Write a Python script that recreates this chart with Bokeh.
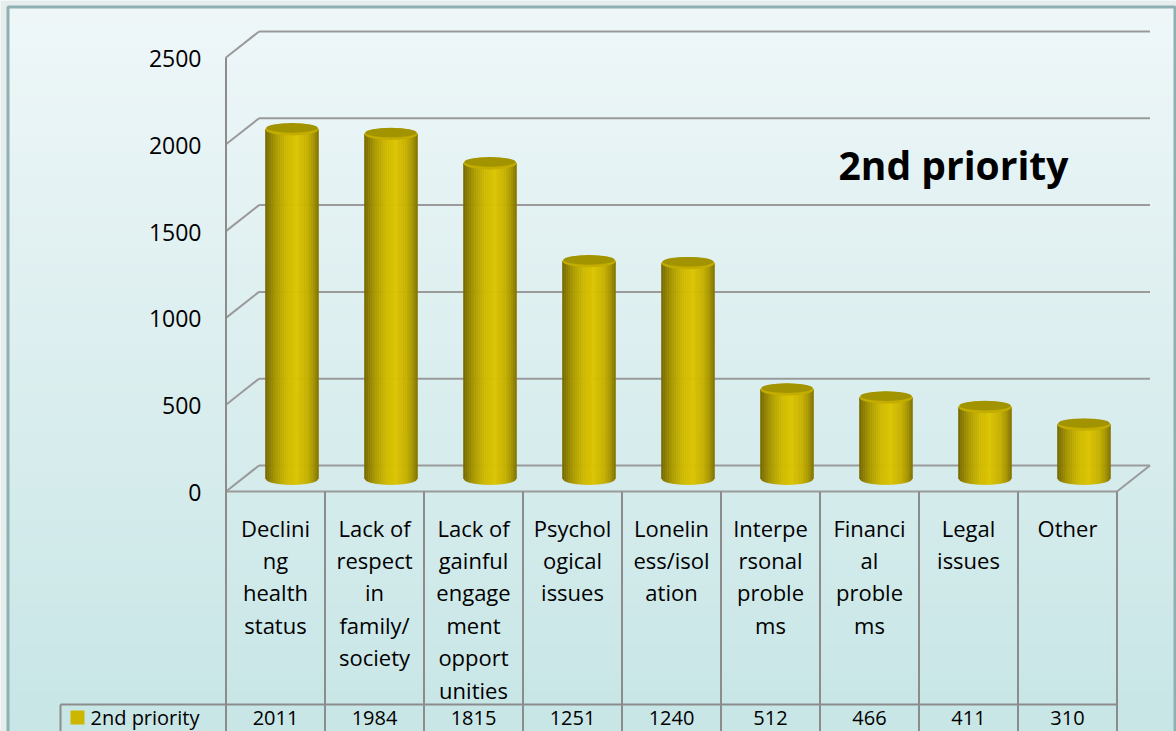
import numpy as np
from bokeh.plotting import figure
from bokeh.models import Range1d
from bokeh.core.properties import value
from bokeh.embed import file_html
from bokeh.resources import INLINE

# ---------------- data ----------------
category_lines = [
    ["Declini", "ng", "health", "status"],
    ["Lack of", "respect", "in", "family/", "society"],
    ["Lack of", "gainful", "engage", "ment", "opport", "unities"],
    ["Psychol", "ogical", "issues"],
    ["Lonelin", "ess/isol", "ation"],
    ["Interpe", "rsonal", "proble", "ms"],
    ["Financi", "al", "proble", "ms"],
    ["Legal", "issues"],
    ["Other"],
]
values = [2011, 1984, 1815, 1251, 1240, 512, 466, 411, 310]
series_name = "2nd priority"
title_text = "2nd priority"
y_ticks = [0, 500, 1000, 1500, 2000, 2500]
y_tick_labels = ["0", "500", "1000", "1500", "2000", "2500"]

# ---------------- layout (pixel calibration) ----------------
W, H = 1176, 731
X0 = 275.0      # px x of first category centre (front plane)
COLW = 99.0     # px per category
Y0 = 491.0      # px y of value 0 (front plane)
PPU = 86.8 / 500.0  # px per value unit


def dx(px):
    return (px - X0) / COLW


def dy(py):
    return (Y0 - py) / PPU


DXc = 33.0 / COLW     # depth offset in category units
DYv = 26.0 / PPU      # depth offset in value units
FONT = value("Open Sans")

p = figure(width=W, height=H, output_backend="svg", toolbar_location=None,
           x_range=Range1d(dx(0), dx(W)),
           y_range=Range1d(dy(H), dy(0)),
           min_border=0, x_axis_type=None, y_axis_type=None)
p.grid.visible = False
p.outline_line_color = None
p.border_fill_color = "#e6eded"
p.background_fill_color = "#e6eded"

# ---------------- background gradient ----------------
NB = 90
edges = np.linspace(7, H, NB + 1)
top_rgb = np.array([239, 247, 249])
bot_rgb = np.array([200, 230, 230])
bg_cols = []
for k in range(NB):
    t = (k + 0.5) / NB
    c = (top_rgb * (1 - t) + bot_rgb * t).astype(int)
    bg_cols.append("#%02x%02x%02x" % tuple(c))
p.quad(left=dx(8), right=dx(1174),
       top=[dy(max(7, e - 0.6)) for e in edges[:-1]], bottom=[dy(e + 0.6) for e in edges[1:]],
       fill_color=bg_cols, line_color=None)

# outer chart border (left, top, right)
p.line(x=[dx(7.5), dx(7.5), dx(1174.5), dx(1174.5)],
       y=[dy(745), dy(6.5), dy(6.5), dy(745)],
       line_color="#8fb0b0", line_width=3)

# ---------------- 3D walls / gridlines ----------------
GRID = "#9a9a9a"
n = len(values)
left_front = -0.5
right_front = n - 0.5
gx, gy = [], []
for t in y_ticks:
    gx.append([left_front, left_front + DXc])
    gy.append([t, t + DYv])
    gx.append([left_front + DXc, right_front + DXc])
    gy.append([t + DYv, t + DYv])
gx.append([left_front, right_front])
gy.append([0, 0])
gx.append([right_front, right_front + DXc])
gy.append([0, DYv])
p.multi_line(xs=gx, ys=gy, line_color=GRID, line_width=2)

# front vertical axis + table verticals
TBL = "#8c8c8c"
tx, ty = [], []
tx.append([left_front, left_front])
ty.append([y_ticks[-1], dy(745)])
for k in range(1, n + 1):
    xk = left_front + k
    tx.append([xk, xk])
    ty.append([0, dy(745)])
tx.append([dx(60), right_front])
ty.append([dy(704), dy(704)])
tx.append([dx(60), dx(60)])
ty.append([dy(704), dy(745)])
p.multi_line(xs=tx, ys=ty, line_color=TBL, line_width=2)

# ---------------- cylinders ----------------
stops_u = [-1.0, -0.65, -0.2, 0.2, 0.6, 0.85, 1.0]
stops_r = [0x74, 0xa6, 0xcf, 0xdc, 0xc6, 0xa2, 0x80]
stops_g = [0x67, 0x95, 0xba, 0xc5, 0xb0, 0x91, 0x72]


def shade(u):
    r = int(np.interp(u, stops_u, stops_r))
    g = int(np.interp(u, stops_u, stops_g))
    return "#%02x%02x%02x" % (r, g, 0)


R = 26.5 / COLW
E = 6.0 / PPU
base_c = DYv / 2.0
NS = 28
ue = np.linspace(-1, 1, NS + 1)
cxs, cys, ccols = [], [], []
top_x, top_y = [], []
for i, v in enumerate(values):
    cx = i + DXc / 2.0
    top_c = v + DYv / 2.0
    top_x.append(cx)
    top_y.append(top_c)
    for k in range(NS):
        u0, u1 = ue[k], ue[k + 1]
        cxs.append([cx + R * u0, cx + R * u1, cx + R * u1, cx + R * u0])
        cys.append([top_c, top_c,
                    base_c - E * np.sqrt(max(0.0, 1 - u1 ** 2)),
                    base_c - E * np.sqrt(max(0.0, 1 - u0 ** 2))])
        ccols.append(shade((u0 + u1) / 2))
p.patches(xs=cxs, ys=cys, fill_color=ccols, line_color=ccols, line_width=0.6)
p.ellipse(x=top_x, y=top_y, width=2 * R, height=2 * E,
          fill_color="#c2ad00", line_color=None)
p.ellipse(x=top_x, y=[t + 0.25 * E for t in top_y], width=2 * R * 0.97, height=2 * E * 0.8,
          fill_color="#a29300", line_color=None)

# ---------------- texts ----------------
p.text(x=[dx(201)] * len(y_ticks), y=[t - 1.0 / PPU for t in y_ticks], text=y_tick_labels,
       text_align="right", text_baseline="middle", text_font=FONT,
       text_font_size="23px", text_color="#000000")

lx, ly, lt = [], [], []
for i, lines in enumerate(category_lines):
    for j, s in enumerate(lines):
        lx.append(i)
        ly.append(dy(527 + 32.4 * j))
        lt.append(s)
p.text(x=lx, y=ly, text=lt, text_align="center", text_baseline="middle",
       text_font=FONT, text_font_size="22px", text_color="#000000")

p.text(x=[dx(838)], y=[dy(164)], text=[title_text], text_align="left",
       text_baseline="middle", text_font=FONT, text_font_size="39px",
       text_font_style="bold", text_color="#000000")

# data table row (kept fully inside the picture)
p.quad(left=[dx(70)], right=[dx(84)], top=[dy(710)], bottom=[dy(724)],
       fill_color="#cdb600", line_color=None)
p.text(x=[dx(90)], y=[dy(717)], text=[series_name], text_align="left",
       text_baseline="middle", text_font=FONT, text_font_size="20px", text_color="#000000")
p.text(x=list(range(n)), y=[dy(717)] * n, text=[str(v) for v in values],
       text_align="center", text_baseline="middle", text_font=FONT,
       text_font_size="20px", text_color="#000000")

open("out.html", "w").write(file_html(p, INLINE))
